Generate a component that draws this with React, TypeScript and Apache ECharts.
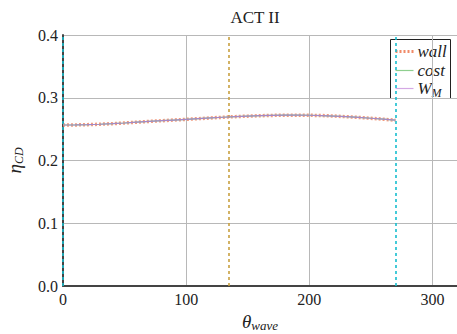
import React, { useEffect, useRef } from "react";
import * as echarts from "echarts";

const thetaWave = [0, 10, 20, 30, 40, 50, 60, 70, 80, 90, 100, 110, 120, 130, 140, 150, 160, 170, 180, 190, 200, 210, 220, 230, 240, 250, 260, 270];
const wallVals = [0.2566, 0.2567, 0.2571, 0.2578, 0.2587, 0.2598, 0.2610, 0.2622, 0.2634, 0.2645, 0.2656, 0.2667, 0.2678, 0.2689, 0.2699, 0.2707, 0.2714, 0.2719, 0.2722, 0.2723, 0.2721, 0.2716, 0.2708, 0.2698, 0.2686, 0.2673, 0.2658, 0.2643];
const costVals = wallVals.slice();
const wmVals = wallVals.slice();
const xTicks = [0, 100, 200, 300];
const yTicks = [0.0, 0.1, 0.2, 0.3, 0.4];
const vLines = [
  { x: 0, color: "#17becf" },
  { x: 135, color: "#c8a040" },
  { x: 270, color: "#17becf" },
];

const SERIF = "Liberation Serif";

export default function App() {
  const ref = useRef<HTMLDivElement>(null);
  useEffect(() => {
    if (!ref.current) return;
    const chart = echarts.init(ref.current, undefined, { renderer: "svg" });
    const pair = (vals: number[]) => thetaWave.map((x, i) => [x, vals[i]]);
    const txt = (size: number, italic = false) => ({
      fontFamily: SERIF,
      fontSize: size,
      fontStyle: italic ? "italic" : "normal",
      color: "#222",
    });
    chart.setOption({
      animation: false,
      backgroundColor: "#ffffff",
      grid: { left: 63, right: 0, top: 35, bottom: 48, outerBoundsMode: "none", containLabel: false },
      title: {
        text: "ACT II",
        left: 250,
        top: 4,
        textAlign: "center",
        textStyle: { ...txt(17), fontWeight: "normal" },
      },
      xAxis: {
        type: "value",
        min: 0,
        max: 320,
        interval: 100,
        name: "{m|θ}{s|wave}",
        nameLocation: "middle",
        nameGap: 23,
        nameTextStyle: {
          ...txt(19, true),
          rich: {
            m: txt(19, true),
            s: { ...txt(13, true), verticalAlign: "bottom", padding: [9, 0, 0, 0] },
          },
        },
        axisLine: { show: true, lineStyle: { color: "#444", width: 2 } },
        axisTick: { show: false },
        axisLabel: {
          ...txt(16),
          margin: 5,
          showMaxLabel: false,
          formatter: (v: number) => (xTicks.includes(v) ? String(v) : ""),
        },
        splitLine: { show: true, lineStyle: { color: "#b8b8b8", width: 1 } },
      },
      yAxis: {
        type: "value",
        min: 0,
        max: 0.4,
        interval: 0.1,
        name: "{m|η}{s|CD}",
        nameLocation: "middle",
        nameGap: 38,
        nameRotate: 90,
        nameTextStyle: {
          ...txt(19, true),
          rich: {
            m: txt(19, true),
            s: { ...txt(12, true), verticalAlign: "bottom", padding: [9, 0, 0, 0] },
          },
        },
        axisLine: { show: true, lineStyle: { color: "#444", width: 2 } },
        axisTick: { show: false },
        axisLabel: {
          ...txt(16),
          margin: 5,
          formatter: (v: number) => {
            const t = yTicks.find((k) => Math.abs(k - v) < 1e-9);
            return t === undefined ? "" : t.toFixed(1);
          },
        },
        splitLine: { show: true, lineStyle: { color: "#b8b8b8", width: 1 } },
      },
      series: [
        {
          name: "wall",
          type: "line",
          data: pair(wallVals),
          showSymbol: false,
          z: 3,
          lineStyle: { color: "#f08a68", width: 3.5, type: [2, 2], opacity: 0.85 },
          markLine: {
            silent: true,
            symbol: "none",
            label: { show: false },
            emphasis: { disabled: true },
            data: vLines.map((v) => ({ xAxis: v.x, lineStyle: { color: v.color, type: [3, 3], width: 1.6, opacity: 1 } })),
          },
        },
        {
          name: "cost",
          type: "line",
          data: pair(costVals),
          showSymbol: false,
          z: 4,
          lineStyle: { color: "#8fcf8f", width: 1.2 },
        },
        {
          name: "W_M",
          type: "line",
          data: pair(wmVals),
          showSymbol: false,
          z: 5,
          lineStyle: { color: "#a688c8", width: 1.2 },
        },
      ],
      graphic: [
        {
          type: "group",
          left: 390,
          top: 39,
          z: 100,
          children: [
            { type: "rect", shape: { x: 0, y: 0, width: 60, height: 59 }, style: { fill: "#fff", stroke: "#222", lineWidth: 1 } },
            { type: "line", shape: { x1: 5, y1: 12, x2: 23, y2: 12 }, style: { stroke: "#f08a68", lineWidth: 3, lineDash: [2, 2] } },
            { type: "text", x: 27, y: 12, style: { text: "wall", fontFamily: SERIF, fontStyle: "italic", fontSize: 17, fill: "#222", verticalAlign: "middle" } },
            { type: "line", shape: { x1: 5, y1: 31, x2: 23, y2: 31 }, style: { stroke: "#8fcf8f", lineWidth: 1.2 } },
            { type: "text", x: 27, y: 31, style: { text: "cost", fontFamily: SERIF, fontStyle: "italic", fontSize: 17, fill: "#222", verticalAlign: "middle" } },
            { type: "line", shape: { x1: 5, y1: 49, x2: 23, y2: 49 }, style: { stroke: "#d4a8e4", lineWidth: 1.2 } },
            { type: "text", x: 27, y: 49, style: { text: "W", fontFamily: SERIF, fontStyle: "italic", fontSize: 17, fill: "#222", verticalAlign: "middle" } },
            { type: "text", x: 41, y: 53, style: { text: "M", fontFamily: SERIF, fontStyle: "italic", fontSize: 12, fill: "#222", verticalAlign: "middle" } },
          ],
        },
      ],
    });
    return () => chart.dispose();
  }, []);
  return <div ref={ref} style={{ position: "fixed", left: 0, top: 0, width: 457, height: 334 }} />;
}
